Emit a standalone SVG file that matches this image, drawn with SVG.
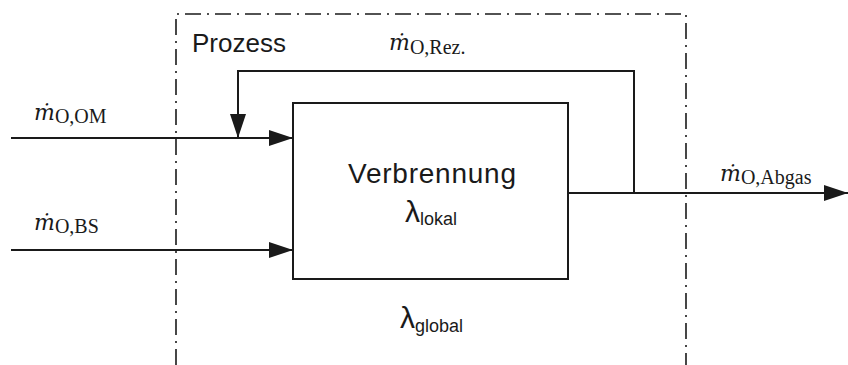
<svg xmlns="http://www.w3.org/2000/svg" width="848" height="365" viewBox="0 0 848 365">
  <style>
    .line { fill: none; stroke: #1a1a1a; stroke-width: 2; }
    .flow { fill: none; stroke: #1a1a1a; stroke-width: 2; marker-end: url(#arrow); }
    .boundary { fill: none; stroke: #1a1a1a; stroke-width: 1.6; stroke-dasharray: 16 6 2 6; }
    .sans { font-family: "Liberation Sans", Arial, sans-serif; fill: #1a1a1a; }
    .mdot { font-family: "DejaVu Serif", serif; font-style: italic; fill: #1a1a1a; font-size: 22px; }
    .sub { font-family: "Liberation Serif", serif; font-style: normal; font-size: 20px; }
  </style>
  <defs>
    <marker id="arrow" viewBox="0 0 24 16" refX="24" refY="8" markerWidth="24" markerHeight="16" markerUnits="userSpaceOnUse" orient="auto">
      <path d="M0,0 L24,8 L0,16 Z" fill="#1a1a1a"/>
    </marker>
  </defs>

  <!-- system boundary (open at the bottom) -->
  <g id="prozess">
    <path class="boundary" d="M176,365 V14 H686 V365"/>
    <text class="sans" x="192" y="52" font-size="26">Prozess</text>
  </g>

  <!-- combustion block -->
  <g id="verbrennung">
    <rect class="line" x="293" y="103" width="275" height="176"/>
    <text class="sans" x="432" y="183" font-size="28" text-anchor="middle" textLength="168">Verbrennung</text>
    <text class="sans" x="405" y="222" font-size="30">λ<tspan font-size="18" dy="3">lokal</tspan></text>
  </g>

  <g id="lambda-global">
    <text class="sans" x="400" y="328" font-size="30">λ<tspan font-size="18" dy="4">global</tspan></text>
  </g>

  <!-- mass flows -->
  <g id="connectors">
    <path class="flow" d="M11,138 H293"/>
    <path class="flow" d="M11,250 H293"/>
    <path class="flow" d="M568,193 H848"/>
    <path class="flow" d="M634,193 V71 H238 V138"/>
  </g>

  <!-- flow labels -->
  <g id="labels">
    <text class="mdot" x="34" y="120">ṁ<tspan class="sub" dy="3">O,OM</tspan></text>
    <text class="mdot" x="34" y="230">ṁ<tspan class="sub" dy="3">O,BS</tspan></text>
    <text class="mdot" x="389" y="50">ṁ<tspan class="sub" dy="4">O,Rez.</tspan></text>
    <text class="mdot" x="720" y="181">ṁ<tspan class="sub" dy="3">O,Abgas</tspan></text>
  </g>
</svg>
